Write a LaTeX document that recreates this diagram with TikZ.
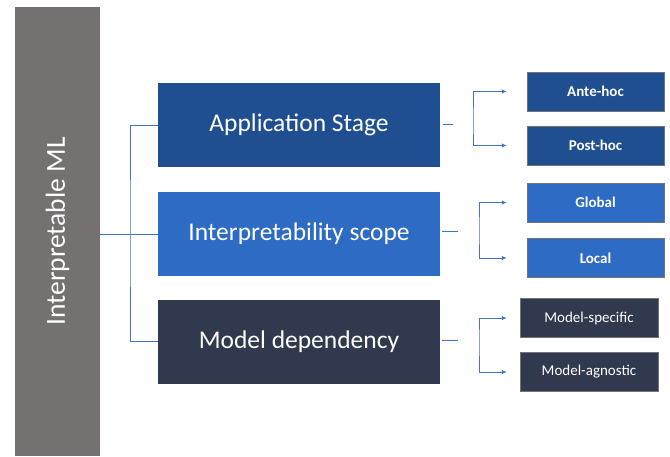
\documentclass[tikz,border=0pt]{standalone}
\usepackage{fontspec}
\setmainfont{Carlito}
\usetikzlibrary{arrows.meta,calc,positioning}

\definecolor{grisbarra}{RGB}{117,113,113}
\definecolor{azulosc}{RGB}{31,78,145}
\definecolor{azulmed}{RGB}{46,107,196}
\definecolor{marino}{RGB}{48,57,77}
\definecolor{lineazul}{RGB}{68,114,196}

\tikzset{
  caja/.style={minimum width=282pt, minimum height=84pt, inner sep=0pt,
               text=white, font=\fontsize{25.5}{30}\selectfont},
  subcaja/.style={minimum width=137pt, minimum height=39pt, inner sep=0pt,
                  draw=black!55, line width=.5pt, text=white,
                  font=\fontsize{15}{18}\selectfont},
  negrita/.style={font=\fontsize{15}{18}\selectfont\bfseries},
  linea/.style={draw=lineazul, line width=.8pt},
  flecha/.style={linea, {Latex[length=5pt,width=4.5pt]}-{Latex[length=5pt,width=4.5pt]}}
}

\begin{document}
\begin{tikzpicture}[x=1pt,y=-1pt]
\useasboundingbox (0,0) rectangle (670,456);

%%%%%%%%%%%%%%%%%%%%%%%%%%%%%%%%%%%%%%%%%%%%%%%% 	BARRA
\node[fill=grisbarra, rotate=90, minimum width=449pt, minimum height=85pt,
      inner sep=0pt, text=white, font=\fontsize{27.5}{32}\selectfont]
      (barra) at (57.5,231.5) {Interpretable ML};

%%%%%%%%%%%%%%%%%%%%%%%%%%%%%%%%%%%%%%%%%%%%%%%% 	CAJAS PRINCIPALES
\node[caja, fill=azulosc] (etapa)   at (299,125)   {Application Stage};
\node[caja, fill=azulmed] (alcance) at (299,234)   {Interpretability scope};
\node[caja, fill=marino]  (depend)  at (299,341.5) {Model dependency};

%%%%%%%%%%%%%%%%%%%%%%%%%%%%%%%%%%%%%%%%%%%%%%%% 	SUBCAJAS
\node[subcaja, negrita, fill=azulosc] (ante)  at (595.5,91.5)  {Ante-hoc};
\node[subcaja, negrita, fill=azulosc] (post)  at (595.5,145.5) {Post-hoc};
\node[subcaja, negrita, fill=azulmed] (glob)  at (595.5,202.5) {Global};
\node[subcaja, negrita, fill=azulmed] (loc)   at (595.5,258)   {Local};
\node[subcaja, fill=marino, minimum width=138pt] (espec) at (589,318) {Model-specific};
\node[subcaja, fill=marino, minimum width=138pt] (agnos) at (589,372) {Model-agnostic};

%%%%%%%%%%%%%%%%%%%%%%%%%%%%%%%%%%%%%%%%%%%%%%%% 	CONECTORES IZQUIERDA
\coordinate (tronco) at (130,234);
\draw[linea] (barra.south |- alcance.west) -- (alcance.west);		%%%%	la barra esta rotada
\draw[linea] (etapa.west) -| (tronco) |- (depend.west);

%%%%%%%%%%%%%%%%%%%%%%%%%%%%%%%%%%%%%%%%%%%%%%%% 	CONECTORES DERECHA
\coordinate (g1) at (473,124);
\coordinate (g2) at (479,231);
\coordinate (g3) at (479,340);

\draw[linea] ($(etapa.east)+(3,-1)$) -- ++(10,0);
\draw[linea] ($(alcance.east)+(2,-3)$) -- ++(16,0);
\draw[linea] ($(depend.east)+(2,-1.5)$) -- ++(16,0);

\draw[flecha] ($(ante.west)+(-20,0)$) -| (g1) |- ($(post.west)+(-20,0)$);
\draw[flecha] ($(glob.west)+(-20,0)$) -| (g2) |- ($(loc.west)+(-20,0)$);
\draw[flecha] ($(espec.west)+(-13,0)$) -| (g3) |- ($(agnos.west)+(-13,0)$);

\end{tikzpicture}
\end{document}
